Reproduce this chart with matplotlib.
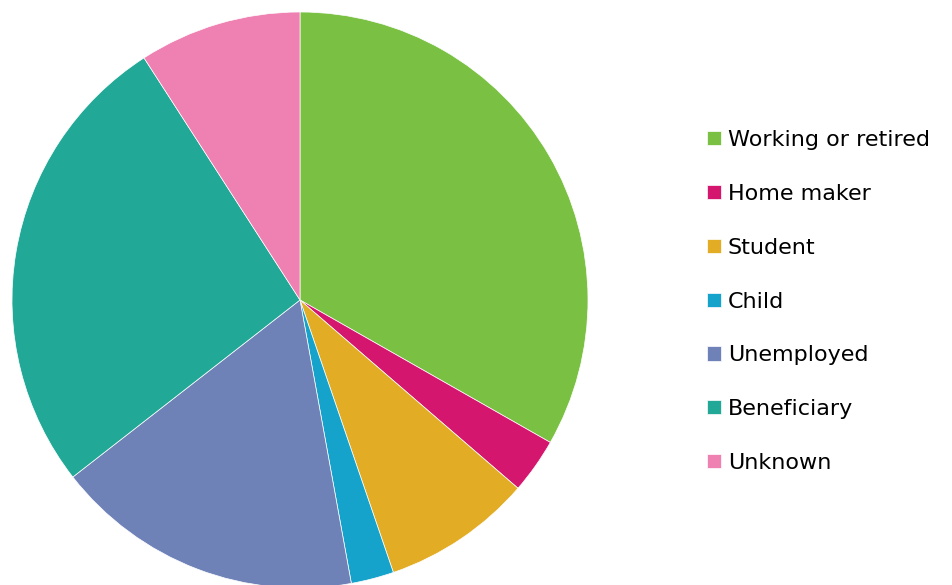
import matplotlib
matplotlib.use("Agg")
import matplotlib.pyplot as plt

labels = ["Working or retired", "Home maker", "Student", "Child",
          "Unemployed", "Beneficiary", "Unknown"]
shares = [33.2, 3.1, 8.4, 2.4, 17.3, 26.4, 9.1]
colors = ["#7AC143", "#D4166F", "#E2AC24", "#16A3CB",
          "#6F82B8", "#21A896", "#EF80B2"]

fig = plt.figure(figsize=(9.52, 5.85), dpi=100)
ax = fig.add_axes([12 / 952, -3 / 585, 576 / 952, 576 / 585])

wedges, _ = ax.pie(shares, colors=colors, startangle=90, counterclock=False,
                   radius=1.0, wedgeprops=dict(edgecolor="white", linewidth=0.5))
ax.set_xlim(-1, 1)
ax.set_ylim(-1, 1)
ax.set_aspect("equal")
ax.axis("off")

fig.legend(wedges, labels, loc="center left",
           bbox_to_anchor=(707 / 952, 283.5 / 585),
           frameon=False, fontsize=16, borderpad=0, borderaxespad=0,
           handlelength=0.61, handleheight=0.61, handletextpad=0.32,
           labelspacing=1.52)

fig.savefig("out.png", dpi=100)
